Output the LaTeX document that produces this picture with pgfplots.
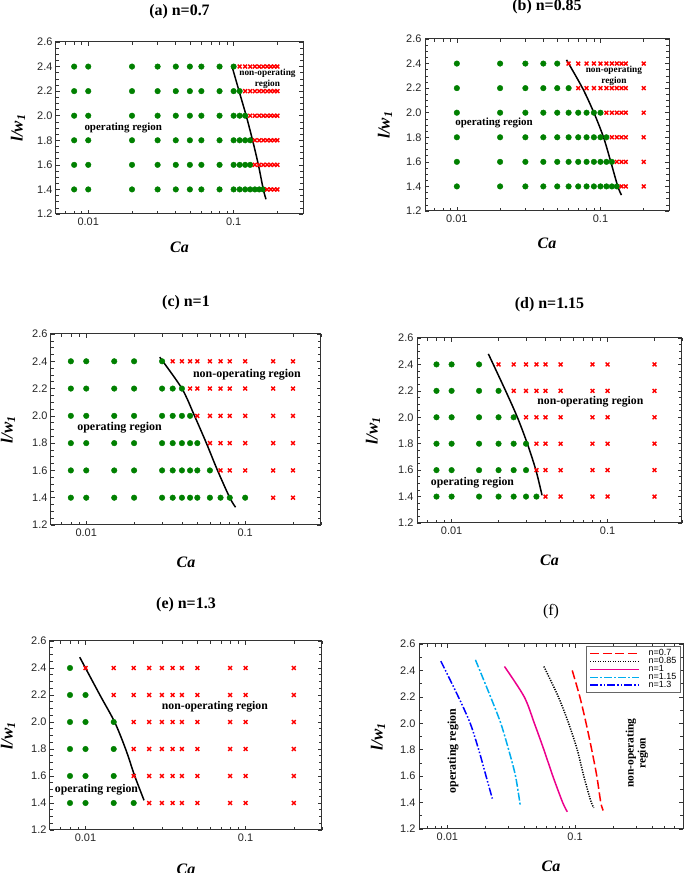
\documentclass[border=0pt]{standalone}
\usepackage{fontspec}
\setmainfont{Liberation Serif}
\setsansfont{Liberation Sans}
\usepackage{pgfplots}
\pgfplotsset{compat=1.18}
\definecolor{dgreen}{RGB}{0,128,0}
\pgfplotsset{
  longleg/.style={legend image code/.code={\draw[##1] (0bp,0bp) -- (49bp,0bp);}},
  every axis/.append style={
    scale only axis, clip=false,
    ymin=1.2, ymax=2.6,
    xtick={0.01,0.1}, xticklabels={\textsf{0.01},\textsf{0.1}},
    ytick={1.2,1.4,1.6,1.8,2.0,2.2,2.4,2.6},
    yticklabels={\textsf{1.2},\textsf{1.4},\textsf{1.6},\textsf{1.8},\textsf{2.0},\textsf{2.2},\textsf{2.4},\textsf{2.6}},
    tick label style={font=\fontsize{11}{11}\selectfont, text=black!85},
    axis line style={line width=1bp, black!80},
    tick style={black!80, line width=0.6bp},
    xlabel={\bfseries\itshape Ca},
    ylabel={\bfseries\itshape l/w\textsubscript{1}},
    xlabel style={font=\fontsize{16}{16}\selectfont, anchor=center},
    ylabel style={font=\fontsize{17}{17}\selectfont, anchor=center},
  },
}
\begin{document}
\begin{tikzpicture}
\useasboundingbox (0,0) rectangle (685bp,873bp);
% (a)
\begin{axis}[xmode=log, anchor=south west, at={(56bp,659bp)}, width=247bp, height=172bp,
  xmin=0.006, xmax=0.3, minor y tick num=3,
  tick label style={font=\fontsize{11}{11}\selectfont},
  minor xtick={0.007,0.008,0.009,0.02,0.03,0.04,0.05,0.06,0.07,0.08,0.09,0.2,0.3},
  xlabel style={at={(axis description cs:0.5,-0.1919)}},
  ylabel style={at={(axis description cs:-0.1538,0.5)}}]
\addplot[only marks, mark=*, mark size=2.8bp, color=dgreen] coordinates {
(0.008,2.4)(0.01,2.4)(0.02,2.4)(0.03,2.4)(0.04,2.4)(0.05,2.4)(0.06,2.4)(0.08,2.4)(0.1,2.4)
(0.008,2.2)(0.01,2.2)(0.02,2.2)(0.03,2.2)(0.04,2.2)(0.05,2.2)(0.06,2.2)(0.08,2.2)(0.1,2.2)(0.11,2.2)
(0.008,2.0)(0.01,2.0)(0.02,2.0)(0.03,2.0)(0.04,2.0)(0.05,2.0)(0.06,2.0)(0.08,2.0)(0.1,2.0)(0.11,2.0)(0.12,2.0)
(0.008,1.8)(0.01,1.8)(0.02,1.8)(0.03,1.8)(0.04,1.8)(0.05,1.8)(0.06,1.8)(0.08,1.8)(0.1,1.8)(0.11,1.8)(0.12,1.8)(0.13,1.8)
(0.008,1.6)(0.01,1.6)(0.02,1.6)(0.03,1.6)(0.04,1.6)(0.05,1.6)(0.06,1.6)(0.08,1.6)(0.1,1.6)(0.11,1.6)(0.12,1.6)(0.13,1.6)
(0.008,1.4)(0.01,1.4)(0.02,1.4)(0.03,1.4)(0.04,1.4)(0.05,1.4)(0.06,1.4)(0.08,1.4)(0.1,1.4)(0.11,1.4)(0.12,1.4)(0.13,1.4)(0.14,1.4)(0.15,1.4)(0.16,1.4)
};
\addplot[only marks, mark=x, mark size=2.7bp, color=red, mark options={line width=1.4bp}] coordinates {
(0.11,2.4)(0.12,2.4)(0.13,2.4)(0.14,2.4)(0.15,2.4)(0.16,2.4)(0.17,2.4)(0.18,2.4)(0.19,2.4)(0.2,2.4)
(0.12,2.2)(0.13,2.2)(0.14,2.2)(0.15,2.2)(0.16,2.2)(0.17,2.2)(0.18,2.2)(0.19,2.2)(0.2,2.2)
(0.13,2.0)(0.14,2.0)(0.15,2.0)(0.16,2.0)(0.17,2.0)(0.18,2.0)(0.19,2.0)(0.2,2.0)
(0.14,1.8)(0.15,1.8)(0.16,1.8)(0.17,1.8)(0.18,1.8)(0.19,1.8)(0.2,1.8)
(0.14,1.6)(0.15,1.6)(0.16,1.6)(0.17,1.6)(0.18,1.6)(0.19,1.6)(0.2,1.6)
(0.17,1.4)(0.18,1.4)(0.19,1.4)(0.2,1.4)
};
\addplot[black, line width=1.5bp, smooth, no marks] coordinates {(0.097,2.41)(0.109,2.2)(0.122,2.0)(0.135,1.8)(0.148,1.6)(0.16,1.4)(0.167,1.32)};
\node[font=\bfseries\fontsize{16}{16}\selectfont, anchor=center] at (axis description cs:0.5,1.1744) {(a) n=0.7};
\node[font=\bfseries\fontsize{11}{11}\selectfont, inner sep=0pt] at (axis cs:0.0174,1.90) {operating region};
\node[align=center, font=\bfseries\fontsize{9.3}{11}\selectfont, inner sep=0pt] at (axis cs:0.171,2.30) {non-operating\\region};
\end{axis}
% (b)
\begin{axis}[xmode=log, anchor=south west, at={(425bp,662bp)}, width=244bp, height=172bp,
  xmin=0.006, xmax=0.3, minor y tick num=3,
  tick label style={font=\fontsize{11}{11}\selectfont},
  minor xtick={0.007,0.008,0.009,0.02,0.03,0.04,0.05,0.06,0.07,0.08,0.09,0.2,0.3},
  xlabel style={at={(axis description cs:0.5,-0.186)}},
  ylabel style={at={(axis description cs:-0.1639,0.5)}}]
\addplot[only marks, mark=*, mark size=2.8bp, color=dgreen] coordinates {
(0.01,2.4)(0.02,2.4)(0.03,2.4)(0.04,2.4)(0.05,2.4)
(0.01,2.2)(0.02,2.2)(0.03,2.2)(0.04,2.2)(0.05,2.2)(0.06,2.2)
(0.01,2.0)(0.02,2.0)(0.03,2.0)(0.04,2.0)(0.05,2.0)(0.06,2.0)(0.07,2.0)(0.08,2.0)(0.09,2.0)(0.1,2.0)
(0.01,1.8)(0.02,1.8)(0.03,1.8)(0.04,1.8)(0.05,1.8)(0.06,1.8)(0.07,1.8)(0.08,1.8)(0.09,1.8)(0.1,1.8)(0.11,1.8)
(0.01,1.6)(0.02,1.6)(0.03,1.6)(0.04,1.6)(0.05,1.6)(0.06,1.6)(0.07,1.6)(0.08,1.6)(0.09,1.6)(0.1,1.6)(0.11,1.6)(0.12,1.6)
(0.01,1.4)(0.02,1.4)(0.03,1.4)(0.04,1.4)(0.05,1.4)(0.06,1.4)(0.07,1.4)(0.08,1.4)(0.09,1.4)(0.1,1.4)(0.11,1.4)(0.12,1.4)(0.13,1.4)
};
\addplot[only marks, mark=x, mark size=2.7bp, color=red, mark options={line width=1.4bp}] coordinates {
(0.06,2.4)(0.07,2.4)(0.08,2.4)(0.09,2.4)(0.1,2.4)(0.11,2.4)(0.12,2.4)(0.13,2.4)(0.14,2.4)(0.15,2.4)(0.2,2.4)
(0.07,2.2)(0.08,2.2)(0.09,2.2)(0.1,2.2)(0.11,2.2)(0.12,2.2)(0.13,2.2)(0.14,2.2)(0.15,2.2)(0.2,2.2)
(0.11,2.0)(0.12,2.0)(0.13,2.0)(0.14,2.0)(0.15,2.0)(0.2,2.0)
(0.12,1.8)(0.13,1.8)(0.14,1.8)(0.15,1.8)(0.2,1.8)
(0.13,1.6)(0.14,1.6)(0.15,1.6)(0.2,1.6)
(0.14,1.4)(0.15,1.4)(0.2,1.4)
};
\addplot[black, line width=1.5bp, smooth, no marks] coordinates {(0.058,2.43)(0.075,2.2)(0.09,2.0)(0.105,1.8)(0.118,1.6)(0.132,1.4)(0.14,1.33)};
\node[font=\bfseries\fontsize{16}{16}\selectfont, anchor=center] at (axis description cs:0.5,1.186) {(b) n=0.85};
\node[font=\bfseries\fontsize{11}{11}\selectfont, inner sep=0pt] at (axis cs:0.01815,1.914) {operating region};
\node[align=center, font=\bfseries\fontsize{9.3}{11}\selectfont, inner sep=0pt] at (axis cs:0.124,2.30) {non-operating\\region};
\end{axis}
% (c)
\begin{axis}[xmode=log, anchor=south west, at={(51bp,348bp)}, width=270bp, height=191bp,
  xmin=0.006, xmax=0.3, minor y tick num=3,
  tick label style={font=\fontsize{11}{11}\selectfont},
  minor xtick={0.007,0.008,0.009,0.02,0.03,0.04,0.05,0.06,0.07,0.08,0.09,0.2,0.3},
  xlabel style={at={(axis description cs:0.5,-0.1937)}},
  ylabel style={at={(axis description cs:-0.1593,0.5)}}]
\addplot[only marks, mark=*, mark size=2.8bp, color=dgreen] coordinates {
(0.008,2.4)(0.01,2.4)(0.015,2.4)(0.02,2.4)(0.03,2.4)
(0.008,2.2)(0.01,2.2)(0.015,2.2)(0.02,2.2)(0.03,2.2)(0.035,2.2)(0.04,2.2)
(0.008,2.0)(0.01,2.0)(0.015,2.0)(0.02,2.0)(0.03,2.0)(0.035,2.0)(0.04,2.0)(0.045,2.0)
(0.008,1.8)(0.01,1.8)(0.015,1.8)(0.02,1.8)(0.03,1.8)(0.035,1.8)(0.04,1.8)(0.045,1.8)(0.05,1.8)
(0.008,1.6)(0.01,1.6)(0.015,1.6)(0.02,1.6)(0.03,1.6)(0.035,1.6)(0.04,1.6)(0.045,1.6)(0.05,1.6)(0.06,1.6)
(0.008,1.4)(0.01,1.4)(0.015,1.4)(0.02,1.4)(0.03,1.4)(0.035,1.4)(0.04,1.4)(0.045,1.4)(0.05,1.4)(0.06,1.4)(0.07,1.4)(0.08,1.4)(0.1,1.4)
};
\addplot[only marks, mark=x, mark size=2.7bp, color=red, mark options={line width=1.4bp}] coordinates {
(0.035,2.4)(0.04,2.4)(0.045,2.4)(0.05,2.4)(0.06,2.4)(0.07,2.4)(0.08,2.4)(0.1,2.4)(0.15,2.4)(0.2,2.4)
(0.045,2.2)(0.05,2.2)(0.06,2.2)(0.07,2.2)(0.08,2.2)(0.1,2.2)(0.15,2.2)(0.2,2.2)
(0.05,2.0)(0.06,2.0)(0.07,2.0)(0.08,2.0)(0.1,2.0)(0.15,2.0)(0.2,2.0)
(0.06,1.8)(0.07,1.8)(0.08,1.8)(0.1,1.8)(0.15,1.8)(0.2,1.8)
(0.07,1.6)(0.08,1.6)(0.1,1.6)(0.15,1.6)(0.2,1.6)
(0.15,1.4)(0.2,1.4)
};
\addplot[black, line width=1.5bp, smooth, no marks] coordinates {(0.029,2.43)(0.040,2.2)(0.048,2.0)(0.057,1.8)(0.067,1.6)(0.080,1.4)(0.087,1.33)};
\node[font=\bfseries\fontsize{16}{16}\selectfont, anchor=center] at (axis description cs:0.5,1.1623) {(c) n=1};
\node[font=\bfseries\fontsize{12}{12}\selectfont, inner sep=0pt] at (axis cs:0.0162,1.913) {operating region};
\node[font=\bfseries\fontsize{12}{12}\selectfont, inner sep=0pt] at (axis cs:0.1026,2.305) {non-operating region};
\end{axis}
% (d)
\begin{axis}[xmode=log, anchor=south west, at={(417bp,350bp)}, width=265bp, height=185bp,
  xmin=0.006, xmax=0.3, minor y tick num=3,
  tick label style={font=\fontsize{11}{11}\selectfont},
  minor xtick={0.007,0.008,0.009,0.02,0.03,0.04,0.05,0.06,0.07,0.08,0.09,0.2,0.3},
  xlabel style={at={(axis description cs:0.5,-0.2)}},
  ylabel style={at={(axis description cs:-0.166,0.5)}}]
\addplot[only marks, mark=*, mark size=2.8bp, color=dgreen] coordinates {
(0.008,2.4)(0.01,2.4)(0.015,2.4)
(0.008,2.2)(0.01,2.2)(0.015,2.2)(0.02,2.2)
(0.008,2.0)(0.01,2.0)(0.015,2.0)(0.02,2.0)(0.025,2.0)
(0.008,1.8)(0.01,1.8)(0.015,1.8)(0.02,1.8)(0.025,1.8)(0.03,1.8)
(0.008,1.6)(0.01,1.6)(0.015,1.6)(0.02,1.6)(0.025,1.6)(0.03,1.6)
(0.008,1.4)(0.01,1.4)(0.015,1.4)(0.02,1.4)(0.025,1.4)(0.03,1.4)(0.035,1.4)
};
\addplot[only marks, mark=x, mark size=2.7bp, color=red, mark options={line width=1.4bp}] coordinates {
(0.02,2.4)(0.025,2.4)(0.03,2.4)(0.035,2.4)(0.04,2.4)(0.05,2.4)(0.08,2.4)(0.1,2.4)(0.2,2.4)
(0.025,2.2)(0.03,2.2)(0.035,2.2)(0.04,2.2)(0.05,2.2)(0.08,2.2)(0.1,2.2)(0.2,2.2)
(0.03,2.0)(0.035,2.0)(0.04,2.0)(0.05,2.0)(0.08,2.0)(0.1,2.0)(0.2,2.0)
(0.035,1.8)(0.04,1.8)(0.05,1.8)(0.08,1.8)(0.1,1.8)(0.2,1.8)
(0.035,1.6)(0.04,1.6)(0.05,1.6)(0.08,1.6)(0.1,1.6)(0.2,1.6)
(0.04,1.4)(0.05,1.4)(0.08,1.4)(0.1,1.4)(0.2,1.4)
};
\addplot[black, line width=1.5bp, smooth, no marks] coordinates {(0.0172,2.48)(0.0222,2.2)(0.0264,2.0)(0.0306,1.8)(0.0347,1.6)(0.038,1.41)};
\node[font=\bfseries\fontsize{16}{16}\selectfont, anchor=center] at (axis description cs:0.5,1.1784) {(d) n=1.15};
\node[font=\bfseries\fontsize{11.8}{11.8}\selectfont, inner sep=0pt] at (axis cs:0.0136,1.507) {operating region};
\node[font=\bfseries\fontsize{11.8}{11.8}\selectfont, inner sep=0pt] at (axis cs:0.0776,2.115) {non-operating region};
\end{axis}
% (e)
\begin{axis}[xmode=log, anchor=south west, at={(50bp,43bp)}, width=272bp, height=189bp,
  xmin=0.006, xmax=0.3, minor y tick num=3,
  tick label style={font=\fontsize{11}{11}\selectfont},
  minor xtick={0.007,0.008,0.009,0.02,0.03,0.04,0.05,0.06,0.07,0.08,0.09,0.2,0.3},
  xlabel style={at={(axis description cs:0.5,-0.2063)}},
  ylabel style={at={(axis description cs:-0.1544,0.5)}}]
\addplot[only marks, mark=*, mark size=2.8bp, color=dgreen] coordinates {
(0.008,2.4)
(0.008,2.2)(0.01,2.2)
(0.008,2.0)(0.01,2.0)(0.015,2.0)
(0.008,1.8)(0.01,1.8)(0.015,1.8)
(0.008,1.6)(0.01,1.6)(0.015,1.6)
(0.008,1.4)(0.01,1.4)(0.015,1.4)(0.02,1.4)
};
\addplot[only marks, mark=x, mark size=2.7bp, color=red, mark options={line width=1.4bp}] coordinates {
(0.01,2.4)(0.015,2.4)(0.02,2.4)(0.025,2.4)(0.03,2.4)(0.035,2.4)(0.04,2.4)(0.05,2.4)(0.08,2.4)(0.1,2.4)(0.2,2.4)
(0.015,2.2)(0.02,2.2)(0.025,2.2)(0.03,2.2)(0.035,2.2)(0.04,2.2)(0.05,2.2)(0.08,2.2)(0.1,2.2)(0.2,2.2)
(0.02,2.0)(0.025,2.0)(0.03,2.0)(0.035,2.0)(0.04,2.0)(0.05,2.0)(0.08,2.0)(0.1,2.0)(0.2,2.0)
(0.02,1.8)(0.025,1.8)(0.03,1.8)(0.035,1.8)(0.04,1.8)(0.05,1.8)(0.08,1.8)(0.1,1.8)(0.2,1.8)
(0.02,1.6)(0.025,1.6)(0.03,1.6)(0.035,1.6)(0.04,1.6)(0.05,1.6)(0.08,1.6)(0.1,1.6)(0.2,1.6)
(0.025,1.4)(0.03,1.4)(0.035,1.4)(0.04,1.4)(0.05,1.4)(0.08,1.4)(0.1,1.4)(0.2,1.4)
};
\addplot[black, line width=1.5bp, smooth, no marks] coordinates {(0.0092,2.48)(0.0123,2.2)(0.0152,2.0)(0.0178,1.8)(0.0203,1.6)(0.0232,1.42)};
\node[font=\bfseries\fontsize{16}{16}\selectfont, anchor=center] at (axis description cs:0.5,1.1905) {(e) n=1.3};
\node[font=\bfseries\fontsize{11.8}{11.8}\selectfont, inner sep=0pt] at (axis cs:0.0117,1.501) {operating region};
\node[font=\bfseries\fontsize{11.8}{11.8}\selectfont, inner sep=0pt] at (axis cs:0.0643,2.113) {non-operating region};
\end{axis}
% (f)
\begin{axis}[xmode=log, anchor=south west, at={(419bp,44bp)}, width=264bp, height=185bp,
  xmin=0.006, xmax=0.7, minor y tick num=1,
  tick label style={font=\fontsize{11}{11}\selectfont},
  minor xtick={0.007,0.008,0.009,0.02,0.03,0.04,0.05,0.06,0.07,0.08,0.09,0.2,0.3,0.4,0.5,0.6,0.7},
  xlabel style={at={(axis description cs:0.5,-0.2)}},
  ylabel style={at={(axis description cs:-0.1553,0.5)}},
  legend style={at={(axis description cs:0.989,0.99)}, anchor=north east, draw=black!60, fill=white,
    font=\fontsize{9}{9}\selectfont, row sep=-1bp, inner xsep=3bp, inner ysep=3bp,
    nodes={inner sep=0.6bp},
    /tikz/every odd column/.append style={column sep=8bp}},
  legend cell align=left]
\addplot[red, line width=1.5bp, dash pattern=on 9bp off 3.5bp, smooth, no marks, longleg] coordinates {(0.095,2.40)(0.109,2.2)(0.122,2.0)(0.135,1.8)(0.148,1.6)(0.159,1.4)(0.166,1.34)};
\addlegendentry{\textsf{n=0.7}}
\addplot[black, line width=1.5bp, dash pattern=on 1.2bp off 1.3bp, smooth, no marks, longleg] coordinates {(0.057,2.43)(0.074,2.2)(0.089,2.0)(0.104,1.8)(0.117,1.6)(0.132,1.42)(0.14,1.36)};
\addlegendentry{\textsf{n=0.85}}
\addplot[magenta, line width=1.5bp, smooth, no marks, longleg] coordinates {(0.028,2.43)(0.040,2.2)(0.048,2.0)(0.057,1.8)(0.067,1.6)(0.080,1.4)(0.087,1.33)};
\addlegendentry{\textsf{n=1}}
\addplot[cyan, line width=1.5bp, dash pattern=on 8bp off 2bp on 2bp off 2bp, smooth, no marks, longleg] coordinates {(0.0166,2.48)(0.0218,2.2)(0.0262,2.0)(0.0302,1.8)(0.0342,1.6)(0.0372,1.38)};
\addlegendentry{\textsf{n=1.15}}
\addplot[blue, line width=1.5bp, dash pattern=on 8bp off 2bp on 1.5bp off 2bp on 1.5bp off 2bp, smooth, no marks, longleg] coordinates {(0.0089,2.47)(0.0122,2.2)(0.0151,2.0)(0.0176,1.8)(0.0201,1.6)(0.0225,1.43)};
\addlegendentry{\textsf{n=1.3}}
\node[font=\fontsize{16}{16}\selectfont, anchor=center] at (axis description cs:0.5,1.173) {(f)};
\node[rotate=90, font=\bfseries\fontsize{12}{12}\selectfont, inner sep=0pt] at (axis cs:0.0111,1.79) {operating region};
\node[rotate=90, align=center, font=\bfseries\fontsize{11.5}{12}\selectfont, inner sep=0pt] at (axis cs:0.305,1.773) {non-operating\\region};
\end{axis}
\end{tikzpicture}
\end{document}
